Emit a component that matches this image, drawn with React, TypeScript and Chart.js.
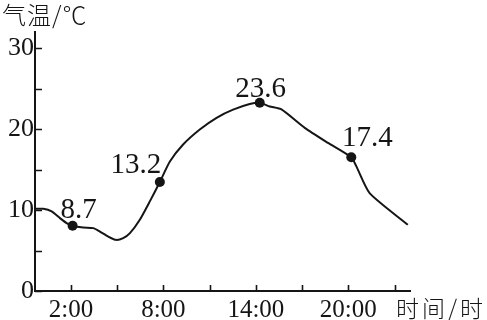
import React, { useEffect, useRef } from "react";
import { Chart, registerables } from "chart.js";

Chart.register(...registerables);

// ---- data ----
const hours = [
  -0.33, 0.21, 0.75, 1.29, 1.72, 2.11, 2.8, 3.45, 3.88, 4.42, 4.92, 5.39, 5.83, 6.47, 7.12, 7.77,
  8.42, 9.28, 10.36, 11.45, 12.52, 13.6, 14.25, 14.9, 15.66, 17.17, 18.68, 20.19, 20.52, 21.38, 23.86,
];
const temps = [
  10.16, 10.16, 9.83, 9.0, 8.39, 8.06, 7.84, 7.77, 7.35, 6.73, 6.32, 6.53, 7.15, 8.8, 11.07, 13.47,
  16.0, 18.1, 19.95, 21.4, 22.4, 23.1, 23.26, 22.8, 22.43, 20.16, 18.3, 16.52, 15.4, 12.1, 8.18,
];

const markHours = [2.11, 7.77, 14.25, 20.19];
const markTemps = [8.06, 13.47, 23.26, 16.52];
const markLabels = ["8.7", "13.2", "23.6", "17.4"];

const xTickHours = [2, 5, 8, 11, 14, 17, 20, 23];
const xLabelHours = [2, 8, 14, 20];
const yTickValues = [0, 5, 10, 15, 20, 25, 30];
const yLabelValues = [0, 10, 20, 30];

const yTitle = "气温/℃";
const xTitle = "时间/时";

// ---- style ----
const INK = "#151515";
const SERIF = "'Liberation Serif', 'DejaVu Serif', serif";
const CJK = "'Noto Sans CJK SC', 'Liberation Serif', sans-serif";
// label offsets relative to its dot: [dx to text centre, dy to baseline]
const labelOffsets = [
  [6, -8],
  [-24, -9],
  [1, -6],
  [16, -11],
];

const decorPlugin = {
  id: "decor",
  afterDraw(chart: any) {
    const ctx = chart.ctx;
    const xs = chart.scales.x;
    const ys = chart.scales.y;
    const { left, bottom } = chart.chartArea;
    ctx.save();
    ctx.strokeStyle = INK;
    ctx.lineWidth = 1.6;
    ctx.beginPath();
    xTickHours.forEach((h) => {
      const px = Math.round(xs.getPixelForValue(h)) + 0.5;
      ctx.moveTo(px, bottom);
      ctx.lineTo(px, bottom - 6);
    });
    yTickValues.forEach((v) => {
      const py = Math.round(ys.getPixelForValue(v)) + 0.5;
      ctx.moveTo(left, py);
      ctx.lineTo(left + 7, py);
    });
    ctx.stroke();

    // point labels
    ctx.fillStyle = INK;
    ctx.font = `29px ${SERIF}`;
    ctx.textAlign = "center";
    ctx.textBaseline = "alphabetic";
    markLabels.forEach((t, i) => {
      const px = xs.getPixelForValue(markHours[i]);
      const py = ys.getPixelForValue(markTemps[i]);
      ctx.fillText(t, px + labelOffsets[i][0], py + labelOffsets[i][1]);
    });

    // axis titles
    ctx.textAlign = "left";
    ctx.textBaseline = "middle";
    ctx.font = `300 24px ${CJK}`;
    (ctx as any).letterSpacing = "1px";
    ctx.fillText(yTitle, 2, 15);
    ctx.font = `300 23px ${CJK}`;
    (ctx as any).letterSpacing = "3px";
    ctx.fillText(xTitle, 396, 308);
    ctx.restore();
  },
};

export default function App() {
  const ref = useRef<HTMLCanvasElement | null>(null);

  useEffect(() => {
    if (!ref.current) return;
    const chart = new Chart(ref.current, {
      type: "scatter",
      data: {
        datasets: [
          {
            data: hours.map((h, i) => ({ x: h, y: temps[i] })),
            showLine: true,
            borderColor: INK,
            borderWidth: 2,
            borderJoinStyle: "round",
            pointRadius: 0,
            tension: 0.2,
            fill: false,
          },
          {
            data: markHours.map((h, i) => ({ x: h, y: markTemps[i] })),
            showLine: false,
            pointRadius: 5,
            backgroundColor: INK,
            borderColor: INK,
            borderWidth: 0,
          },
        ],
      },
      options: {
        responsive: false,
        animation: false,
        layout: { padding: { top: 32, right: 77, left: 0, bottom: 0 } },
        plugins: {
          legend: { display: false },
          tooltip: { enabled: false },
        },
        scales: {
          x: {
            type: "linear",
            min: -0.33,
            max: 24,
            afterBuildTicks: (s: any) => {
              s.ticks = xLabelHours.map((v) => ({ value: v }));
            },
            afterFit: (s: any) => {
              s.height = 29;
            },
            grid: { display: false, drawTicks: false },
            border: { display: true, color: INK, width: 2 },
            ticks: {
              color: INK,
              font: { family: SERIF, size: 25 },
              padding: 4,
              maxRotation: 0,
              autoSkip: false,
              callback: (v: any) => `${v}:00`,
            },
          },
          y: {
            type: "linear",
            min: 0,
            max: 32,
            afterBuildTicks: (s: any) => {
              s.ticks = yLabelValues.map((v) => ({ value: v }));
            },
            afterFit: (s: any) => {
              s.width = 35;
            },
            grid: { display: false, drawTicks: false },
            border: { display: true, color: INK, width: 2 },
            ticks: {
              color: INK,
              font: { family: SERIF, size: 26 },
              padding: 1,
              autoSkip: false,
            },
          },
        },
      },
      plugins: [decorPlugin],
    });
    return () => chart.destroy();
  }, []);

  return (
    <div style={{ position: "absolute", left: 0, top: 0, width: 487, height: 320, background: "#fff" }}>
      <canvas ref={ref} width={487} height={320} />
    </div>
  );
}
